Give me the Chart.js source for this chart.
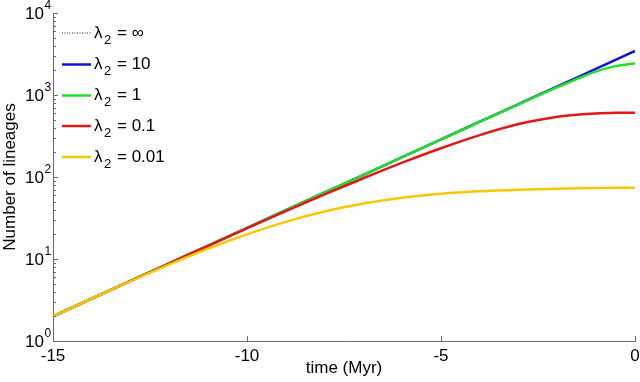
<!DOCTYPE html>
<html><head><meta charset="utf-8">
<script src="https://cdn.jsdelivr.net/npm/chart.js@4/dist/chart.umd.min.js"></script>
<style>html,body{margin:0;padding:0;background:#fff;overflow:hidden}</style>
</head><body>
<canvas id="c" width="640" height="382" style="display:block;width:640px;height:382px"></canvas>
<script>
// ---- data ----
const times      = [-15, -14, -13, -12, -11, -10, -9, -8, -7, -6, -5, -4, -3, -2, -1.5, -1, -0.5, 0];
const lamInf     = [2, 3.29, 5.4, 8.87, 14.6, 24.0, 39.4, 64.7, 106, 175, 287, 472, 776, 1274, 1632, 2094, 2690, 3480];
const lam10      = [2, 3.29, 5.4, 8.87, 14.6, 24.0, 39.4, 64.7, 106, 175, 287, 472, 776, 1274, 1630, 2094, 2680, 3440];
const lam1       = [2, 3.29, 5.4, 8.87, 14.6, 24.0, 39.4, 64.7, 106, 175, 287, 471, 768, 1245, 1567, 1940, 2250, 2430];
const lam01      = [2, 3.29, 5.4, 8.85, 14.5, 23.6, 38.4, 61.5, 96.6, 149.6, 224, 324, 442, 543, 576, 596, 606, 609.5];
const lam001     = [2, 3.29, 5.36, 8.59, 13.4, 20.0, 28.4, 37.9, 47.4, 56.0, 62.5, 67.0, 70.0, 72.1, 72.9, 73.5, 73.8, 74.0];
const seriesNames  = ['∞', '10', '1', '0.1', '0.01'];
const yTickValues  = [1, 10, 100, 1000, 10000];
const yTickExps    = ['0', '1', '2', '3', '4'];
const xTickValues  = [-15, -10, -5, 0];

const toPts = arr => arr.map((v, i) => ({x: times[i], y: v}));
const FONT = '"Liberation Sans", Arial, Helvetica, sans-serif';
const AXIS_COLOR = '#6a6a6a';

const datasets = [
  {label: seriesNames[0], data: toPts(lamInf), borderColor: '#222222', borderWidth: 1, borderDash: [1, 1.5]},
  {label: seriesNames[1], data: toPts(lam10),  borderColor: '#1010e0', borderWidth: 2.5},
  {label: seriesNames[2], data: toPts(lam1),   borderColor: '#22e022', borderWidth: 2.5},
  {label: seriesNames[3], data: toPts(lam01),  borderColor: '#e01818', borderWidth: 2.5},
  {label: seriesNames[4], data: toPts(lam001), borderColor: '#f5c800', borderWidth: 2.5}
].map(d => Object.assign({pointRadius: 0, cubicInterpolationMode: 'monotone', fill: false}, d));
// draw later datasets on top (like MATLAB's plotting order)
datasets.forEach((d, i) => d.order = datasets.length - i);

const decorPlugin = {
  id: 'decor',
  afterDraw(chart) {
    const ctx = chart.ctx;
    const ys = chart.scales.y, xs = chart.scales.x;
    const L = chart.chartArea.left, B = chart.chartArea.bottom;
    ctx.save();
    // y ticks (inward), major + minor
    ctx.strokeStyle = AXIS_COLOR; ctx.lineWidth = 1;
    ctx.beginPath();
    for (let e = 0; e < 4; e++) {
      for (let m = 2; m <= 9; m++) {
        const py = Math.round(ys.getPixelForValue(m * Math.pow(10, e))) + 0.5;
        ctx.moveTo(L, py); ctx.lineTo(L + 3, py);
      }
    }
    yTickValues.forEach(v => {
      const py = Math.round(ys.getPixelForValue(v)) + 0.5;
      ctx.moveTo(L, py); ctx.lineTo(L + 5, py);
    });
    xTickValues.forEach(v => {
      const px = Math.round(xs.getPixelForValue(v)) + 0.5;
      ctx.moveTo(px, B); ctx.lineTo(px, B - 5);
    });
    ctx.stroke();
    // y tick labels with superscript exponent
    ctx.fillStyle = '#000';
    yTickValues.forEach((v, i) => {
      const py = ys.getPixelForValue(v);
      ctx.font = '17px ' + FONT;
      ctx.textAlign = 'right'; ctx.textBaseline = 'middle';
      ctx.fillText('10', 44, py + 1);
      ctx.font = '12px ' + FONT;
      ctx.textAlign = 'left';
      ctx.fillText(yTickExps[i], 44.5, py - 7);
    });
    // legend
    const legY = [33, 64.5, 95.5, 126, 157];
    chart.data.datasets.forEach((d, i) => {
      const y = legY[i];
      ctx.strokeStyle = d.borderColor;
      ctx.lineWidth = d.borderWidth;
      ctx.setLineDash(d.borderDash || []);
      ctx.beginPath(); ctx.moveTo(62, y); ctx.lineTo(91, y); ctx.stroke();
      ctx.setLineDash([]);
      ctx.fillStyle = '#000';
      ctx.textAlign = 'left'; ctx.textBaseline = 'middle';
      ctx.font = '17px ' + FONT;
      ctx.fillText('λ', 94, y);
      ctx.font = '13px ' + FONT;
      ctx.fillText('2', 104, y + 7);
      ctx.font = '17px ' + FONT;
      ctx.fillText('= ' + d.label, 117, y);
    });
    ctx.restore();
  }
};

new Chart(document.getElementById('c'), {
  type: 'line',
  data: {datasets},
  options: {
    responsive: false,
    animation: false,
    devicePixelRatio: 1,
    layout: {padding: {top: 13, right: 5, left: 0, bottom: 0}},
    plugins: {legend: {display: false}, tooltip: {enabled: false}},
    scales: {
      x: {
        type: 'linear', min: -15, max: 0,
        grid: {display: false, drawTicks: false, tickLength: 0},
        border: {display: true, color: AXIS_COLOR, width: 1},
        ticks: {
          callback: v => xTickValues.includes(v) ? String(v) : '',
          stepSize: 5, autoSkip: false, maxRotation: 0,
          color: '#000', font: {size: 17, family: FONT}, padding: 5
        },
        title: {display: true, text: 'time (Myr)', color: '#000', font: {size: 17, family: FONT}, padding: {top: 0, bottom: 3}},
        afterFit: s => { s.height = 41; s.paddingLeft = 0; s.paddingRight = 0; }
      },
      y: {
        type: 'logarithmic', min: 1, max: 10000,
        grid: {display: false, drawTicks: false, tickLength: 0},
        border: {display: true, color: AXIS_COLOR, width: 1},
        ticks: {display: false},
        title: {display: true, text: 'Number of lineages', color: '#000', font: {size: 17, family: FONT}, padding: {top: 0, bottom: 0}},
        afterFit: s => { s.width = 53; s.paddingTop = 0; s.paddingBottom = 0; }
      }
    }
  },
  plugins: [decorPlugin]
});
</script>
</body></html>
